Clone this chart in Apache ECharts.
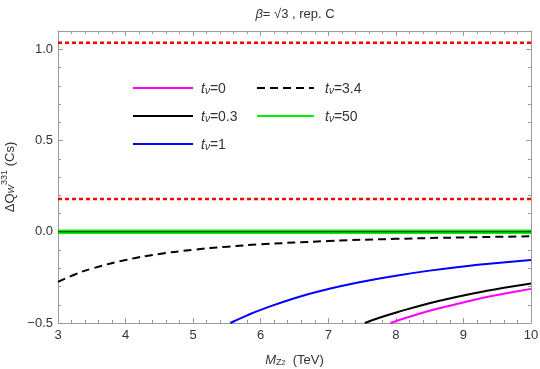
<!DOCTYPE html>
<html>
<head>
<meta charset="utf-8">
<script src="https://cdn.jsdelivr.net/npm/echarts@6/dist/echarts.min.js"></script>
<style>
  html, body { margin: 0; padding: 0; background: #fff; }
  #chart { width: 540px; height: 369px; }
</style>
</head>
<body>
<div id="chart"></div>
<script>
// 曲线数据
var tv0X = [7.92, 8.2, 8.5, 8.8, 9.1, 9.4, 9.7, 10];
var tv0Y = [-0.5, -0.466, -0.433, -0.405, -0.378, -0.354, -0.333, -0.313];

var tv03X = [7.54, 7.8, 8.1, 8.4, 8.7, 9, 9.3, 9.6, 10];
var tv03Y = [-0.5, -0.466, -0.432, -0.401, -0.374, -0.349, -0.327, -0.307, -0.283];

var tv1X = [5.55, 5.8, 6, 6.5, 7, 7.5, 8, 8.5, 9, 9.5, 10];
var tv1Y = [-0.5, -0.458, -0.428, -0.364, -0.314, -0.274, -0.241, -0.213, -0.19, -0.171, -0.155];

var tv34X = [3, 3.25, 3.5, 4, 4.5, 5, 5.5, 6, 7, 8, 9, 10];
var tv34Y = [-0.275, -0.234, -0.202, -0.155, -0.122, -0.099, -0.082, -0.069, -0.051, -0.039, -0.031, -0.025];

var tv50X = [3, 10];
var tv50Y = [0, 0];

// 红色虚线上下限
var boundUpper = 1.035;
var boundLower = 0.18;

var xRange = [3, 10];
var yRange = [-0.5, 1.1];

function pts(xs, ys) {
  return xs.map(function (x, i) { return [x, ys[i]]; });
}

var frameColor = '#9a9a9a';
var textColor = '#333';

var legendRich = {
  i: { fontStyle: 'italic', fontSize: 14, color: textColor, fontFamily: 'Liberation Sans', verticalAlign: 'bottom', lineHeight: 16 },
  s: { fontStyle: 'italic', fontSize: 10, color: textColor, fontFamily: 'Liberation Sans', verticalAlign: 'bottom', lineHeight: 9 },
  n: { fontSize: 14, color: textColor, fontFamily: 'Liberation Sans', verticalAlign: 'bottom', lineHeight: 16 }
};
function legendFmt(name) {
  return '{i|t}{s|ν}{n|' + name.slice(2) + '}';
}

// 框线刻度（四边都有，向内）
function frameAxis(extra) {
  var base = {
    type: 'value',
    axisLine: { show: true, onZero: false, lineStyle: { color: frameColor, width: 1 } },
    axisTick: { show: true, inside: true, length: 5, lineStyle: { color: frameColor } },
    minorTick: { show: true, splitNumber: 5, length: 3, lineStyle: { color: frameColor } },
    splitLine: { show: false },
    minorSplitLine: { show: false }
  };
  for (var k in extra) base[k] = extra[k];
  return base;
}

var charts = echarts.init(document.getElementById('chart'));
charts.setOption({
  animation: false,
  title: {
    text: '{i|β}{n|= √3 , rep. C}',
    left: 290,
    top: 3,
    textAlign: 'center',
    textStyle: {
      fontWeight: 'normal',
      rich: {
        i: { fontStyle: 'italic', fontWeight: 'normal', fontSize: 13, color: textColor, fontFamily: 'Liberation Sans' },
        n: { fontSize: 13, fontWeight: 'normal', color: textColor, fontFamily: 'Liberation Sans' }
      }
    }
  },
  grid: { left: 58, right: 9, top: 31, bottom: 46, outerBoundsMode: 'none', containLabel: false },
  legend: [{
    data: ['tν=0', 'tν=0.3', 'tν=1'],
    left: 127, top: 77, orient: 'vertical',
    itemWidth: 60, itemHeight: 14, itemGap: 14,
    itemStyle: { opacity: 0 },
    formatter: legendFmt,
    textStyle: { rich: legendRich, padding: [0, 0, 0, 3] }
  }, {
    data: ['tν=3.4', 'tν=50'],
    left: 251, top: 77, orient: 'vertical',
    itemWidth: 57, itemHeight: 14, itemGap: 14,
    itemStyle: { opacity: 0 },
    formatter: legendFmt,
    textStyle: { rich: legendRich, padding: [0, 0, 0, 6] }
  }],
  xAxis: [frameAxis({
    min: xRange[0], max: xRange[1], interval: 1, position: 'bottom',
    name: '{i|M}{sub|Z}{sub2|2}{n|  (TeV)}',
    nameLocation: 'middle', nameGap: 28,
    nameTextStyle: {
      rich: {
        i: { fontStyle: 'italic', fontSize: 13, color: textColor, verticalAlign: 'bottom', lineHeight: 16, fontFamily: 'Liberation Sans' },
        sub: { fontSize: 9, color: textColor, verticalAlign: 'bottom', lineHeight: 9, fontFamily: 'Liberation Sans' },
        sub2: { fontSize: 7, color: textColor, verticalAlign: 'bottom', lineHeight: 4, fontFamily: 'Liberation Sans' },
        n: { fontSize: 13, color: textColor, verticalAlign: 'bottom', lineHeight: 16, fontFamily: 'Liberation Sans' }
      }
    },
    axisLabel: { color: textColor, fontSize: 13, margin: 6, fontFamily: 'Liberation Sans' }
  }), frameAxis({
    min: xRange[0], max: xRange[1], interval: 1, position: 'top',
    axisLabel: { show: false }
  })],
  yAxis: [frameAxis({
    min: yRange[0], max: yRange[1], interval: 0.5, position: 'left',
    name: '{n|ΔQ}{sub|W}{sup|331}{n| (Cs)}',
    nameLocation: 'middle', nameGap: 40, nameRotate: 90,
    nameTextStyle: {
      rich: {
        n: { fontSize: 13, color: textColor, verticalAlign: 'bottom', lineHeight: 16, fontFamily: 'Liberation Sans' },
        sub: { fontStyle: 'italic', fontSize: 9, color: textColor, verticalAlign: 'bottom', lineHeight: 8, fontFamily: 'Liberation Sans' },
        sup: { fontSize: 9, color: textColor, verticalAlign: 'top', lineHeight: 8, fontFamily: 'Liberation Sans' }
      }
    },
    axisLabel: {
      color: textColor, fontSize: 13, margin: 5, fontFamily: 'Liberation Sans',
      showMaxLabel: false,
      formatter: function (v) { return v < 0 ? '\u2212' + (-v).toFixed(1) : v.toFixed(1); }
    }
  }), frameAxis({
    min: yRange[0], max: yRange[1], interval: 0.5, position: 'right',
    axisLabel: { show: false }
  })],
  series: [{
    type: 'line', silent: true, symbol: 'none',
    data: pts(xRange, [boundUpper, boundUpper]),
    lineStyle: { color: '#ff0000', width: 2.5, type: [4, 3] }
  }, {
    type: 'line', silent: true, symbol: 'none',
    data: pts(xRange, [boundLower, boundLower]),
    lineStyle: { color: '#ff0000', width: 2.5, type: [4, 3] }
  }, {
    name: 'tν=50', type: 'line', symbol: 'none',
    data: pts(tv50X, tv50Y),
    itemStyle: { color: '#00ee00' },
    lineStyle: { color: '#00ee00', width: 4.5 }
  }, {
    type: 'line', silent: true, symbol: 'none',
    data: pts(tv50X, tv50Y),
    lineStyle: { color: '#1a1a1a', width: 1.2 }
  }, {
    name: 'tν=3.4', type: 'line', symbol: 'none', smooth: true,
    data: pts(tv34X, tv34Y),
    itemStyle: { color: '#000' },
    lineStyle: { color: '#000', width: 2, type: [8, 5] }
  }, {
    name: 'tν=1', type: 'line', symbol: 'none', smooth: true,
    data: pts(tv1X, tv1Y),
    itemStyle: { color: '#0000ff' },
    lineStyle: { color: '#0000ff', width: 2 }
  }, {
    name: 'tν=0.3', type: 'line', symbol: 'none', smooth: true,
    data: pts(tv03X, tv03Y),
    itemStyle: { color: '#000' },
    lineStyle: { color: '#000', width: 2 }
  }, {
    name: 'tν=0', type: 'line', symbol: 'none', smooth: true,
    data: pts(tv0X, tv0Y),
    itemStyle: { color: '#ff00ff' },
    lineStyle: { color: '#ff00ff', width: 2 }
  }]
});
window.addEventListener('resize', function () { charts.resize(); });
</script>
</body>
</html>
